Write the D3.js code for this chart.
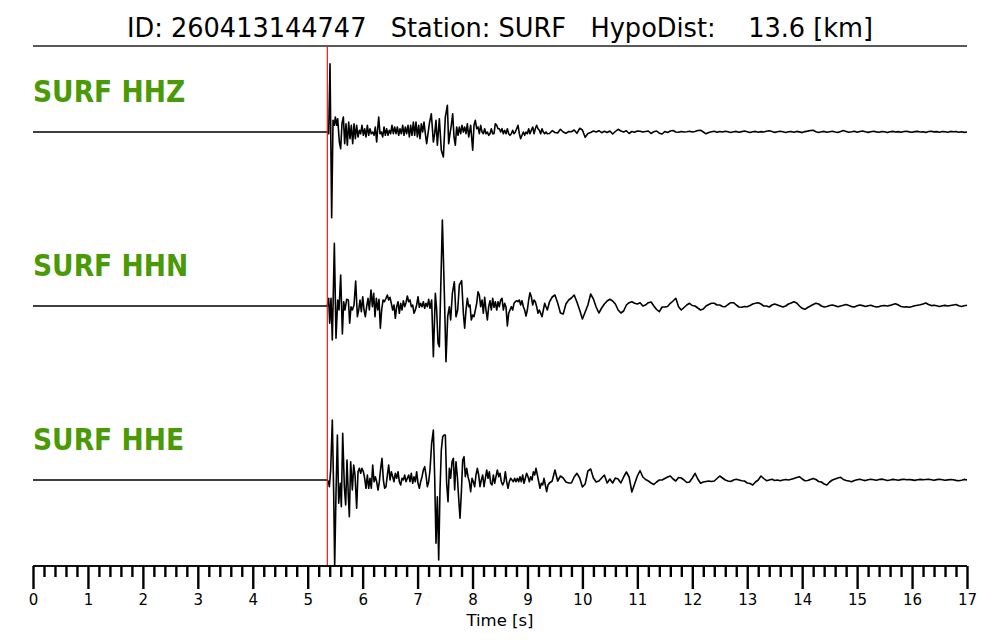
<!DOCTYPE html>
<html><head><meta charset="utf-8">
<script src="https://cdn.jsdelivr.net/npm/d3@7/dist/d3.min.js"></script>
<style>body{margin:0;background:#fff}svg{display:block}</style>
</head><body>
<svg id="chart" width="1000" height="640"></svg>
<script>
// ---------- data ----------
const channels = ["SURF HHZ", "SURF HHN", "SURF HHE"];
const titleText = "ID: 260413144747   Station: SURF   HypoDist:    13.6 [km]";
const axisLabel = "Time [s]";
const timeDomain = [0, 17];
const majorTicks = [0,1,2,3,4,5,6,7,8,9,10,11,12,13,14,15,16,17];
const minorStep = 0.2;
const pickTime = 5.357;           // P-pick (red line)
const tailStart = 9.40;           // coda samples start
const tailStep = 0.05;            // coda sample spacing [s]

// [time s, amplitude] around the onset (arbitrary units)
const hhzPicks = [[0,0],[5.357,0],[5.382,-1.7],[5.406,68.3],[5.436,-85.7],[5.461,11.7],[5.485,6.7],[5.503,15],[5.527,6.7],[5.546,13.3],[5.576,-10],[5.600,-16.7],[5.624,8.3],[5.649,15],[5.673,-11.7],[5.697,8.3],[5.721,-13.3],[5.746,10],[5.770,-6.7],[5.794,6.7],[5.819,-11.7],[5.843,8.3],[5.867,-6.7],[5.891,6.7],[5.916,-5],[5.940,1.7],[5.964,-1.7],[5.988,6.7],[6.013,-3.3],[6.037,3.3],[6.061,-5],[6.086,6.7],[6.110,-3.3],[6.134,3.3],[6.158,-1.7],[6.183,0],[6.207,-3.3],[6.231,5],[6.255,-10],[6.292,15],[6.316,-1.7],[6.340,0],[6.365,-5],[6.389,5],[6.413,-3.3],[6.437,3.3],[6.462,-3.3],[6.486,1.7],[6.510,-1.7],[6.534,6.7],[6.559,-1.7],[6.583,5],[6.607,-1.7],[6.632,5],[6.656,-3.3],[6.680,3.3],[6.704,-1.7],[6.729,6.7],[6.753,-3.3],[6.777,5],[6.801,-1.7],[6.826,6.7],[6.850,-5],[6.874,6.7],[6.898,-3.3],[6.923,10],[6.947,-3.3],[6.971,10],[6.996,-5],[7.020,6.7],[7.044,-6.7],[7.068,8.3],[7.093,0],[7.117,10],[7.141,-1.7],[7.165,-11.7],[7.190,-1.7],[7.214,8.3],[7.250,18.3],[7.287,-10],[7.311,-1.7],[7.335,11.7],[7.360,-13.3],[7.396,13.3],[7.432,-18.3],[7.469,-25],[7.505,15],[7.542,26.7],[7.566,-11.7],[7.590,-1.7],[7.614,6.7],[7.639,18.3],[7.663,-5],[7.687,-13.3],[7.711,5],[7.736,-3.3],[7.760,5],[7.784,-1.7],[7.809,6.7],[7.833,0],[7.857,5],[7.881,-1.7],[7.906,8.3],[7.930,-5],[7.966,6.7],[8.003,-18.3],[8.027,6.7],[8.051,11.7],[8.076,3.3],[8.100,5],[8.124,-1.7],[8.148,6.7],[8.173,0],[8.197,-1.7],[8.221,3.3],[8.245,-1.7],[8.270,0],[8.294,-3.3],[8.318,-1.7],[8.342,3.3],[8.367,-1.7],[8.391,-1.7],[8.415,8.3],[8.440,6.7],[8.464,3.3],[8.488,3.3],[8.512,0],[8.537,3.3],[8.561,-1.7],[8.585,1.7],[8.609,-1.7],[8.634,3.3],[8.658,-1.7],[8.682,-3.3],[8.706,-1.7],[8.731,1.7],[8.755,-1.7],[8.779,0],[8.803,3.3],[8.828,6.7],[8.852,-1.7],[8.876,-6.7],[8.900,-3.3],[8.925,0],[8.949,-3.3],[8.973,0],[8.998,-1.7],[9.022,3.3],[9.046,-1.7],[9.070,1.7],[9.095,5],[9.119,-1.7],[9.143,3.3],[9.167,6.7],[9.192,3.3],[9.216,1.7],[9.240,-1.7],[9.265,3.3],[9.289,0],[9.313,-1.7],[9.337,0],[9.362,-1.7]];
const hhzTail = [-1.5,1.3,-0.5,-1,2.7,0,-1.3,0.5,0.3,2,-1.3,3.7,2,-5.3,-1.5,-0.5,1,0,1.3,-0.7,0.8,-0.5,1,-2,0.5,2.7,1,0,1.2,-1.5,0.5,-0.3,1,0.8,0,0.5,1,-1.5,0.3,1,-1.2,-2,0.5,-0.5,1,1.5,0,-0.3,0.5,0,0.3,0.8,0,0.5,1.5,1.8,0,-1.8,-0.5,0.3,0.7,-0.3,0.5,0,0.8,0.3,-0.5,0.2,0.6,-0.3,0.4,1,0.2,-0.5,0.3,0.6,-0.2,0.4,0,0.7,1.2,0.5,-0.4,0.3,0.8,0.2,-0.5,0.3,0.5,-0.2,0.6,0.1,-0.6,0.4,0.9,1.5,1.8,0.3,-0.5,0.2,0.6,-0.3,0.3,0.7,0,-0.4,0.5,1.4,0.6,-0.3,0.2,0.8,-0.2,0.5,1,0.2,-0.4,0.3,0.7,0.1,-0.3,0.5,0.2,-0.6,0.3,0.6,0,0.4,-0.2,0.5,0.8,0.1,-0.3,0.4,0.6,0,0.3,-0.4,0.5,0.7,0.1,0.4,-0.2,0.5,0.3,-0.3,0.6,0.2,0.5,-0.2,0.3,-0.4,0];

const hhnPicks = [[0,0],[5.357,0],[5.382,7.7],[5.400,-17.3],[5.424,7.7],[5.448,-34],[5.485,62.7],[5.515,-32.3],[5.546,6],[5.570,-4],[5.600,31],[5.631,-28],[5.655,4.3],[5.679,-4],[5.709,6.7],[5.740,6],[5.764,-17.3],[5.788,-0.7],[5.813,-4],[5.843,1],[5.873,25],[5.904,-10.7],[5.928,-4],[5.952,6],[5.976,-5.7],[6.001,9.3],[6.025,-4],[6.049,-10.7],[6.073,-0.7],[6.098,7.7],[6.122,-4],[6.152,16],[6.177,-0.7],[6.201,12.7],[6.225,-10.7],[6.249,7.7],[6.274,-4],[6.298,6.7],[6.322,-22.3],[6.346,-4],[6.371,6],[6.395,4.3],[6.425,7.7],[6.450,11],[6.474,6],[6.498,8.7],[6.522,2.7],[6.547,-4],[6.571,1],[6.595,-12.3],[6.619,-0.7],[6.644,4.3],[6.668,-7.3],[6.692,2.7],[6.716,-4],[6.741,5.3],[6.765,-0.7],[6.789,3.3],[6.814,10],[6.838,4.3],[6.862,6],[6.886,-0.7],[6.911,1],[6.935,-7.3],[6.959,-4],[6.983,1],[7.008,9.3],[7.032,-1.3],[7.056,2.7],[7.081,-0.7],[7.105,4.3],[7.129,-2.3],[7.153,2.7],[7.178,-0.7],[7.202,6.7],[7.226,-2.3],[7.256,6],[7.287,-50.7],[7.323,12.7],[7.347,-4],[7.372,-37.3],[7.396,-40.7],[7.451,86],[7.487,12.7],[7.517,-55.7],[7.548,-10.7],[7.578,-0.7],[7.602,-14],[7.633,12.7],[7.669,24.3],[7.699,-10.7],[7.730,-4],[7.760,21],[7.802,25.3],[7.833,-7.3],[7.857,-22.3],[7.881,-4],[7.906,7.7],[7.930,-0.7],[7.954,1],[7.978,-14],[8.003,-9],[8.027,-10.7],[8.051,-4],[8.076,2.7],[8.100,14.3],[8.124,11],[8.148,-0.7],[8.173,6],[8.197,-7.3],[8.221,8.7],[8.245,-4],[8.270,-14],[8.294,-0.7],[8.318,5.3],[8.342,-4],[8.367,7.7],[8.391,-1.3],[8.415,4.3],[8.440,-4],[8.464,4.3],[8.488,-0.7],[8.512,6],[8.537,7.7],[8.561,-4],[8.585,2.7],[8.609,-0.7],[8.634,-20],[8.658,-7.3],[8.682,-4],[8.706,-0.7],[8.731,-4],[8.755,2.7],[8.779,4.3],[8.803,5.3],[8.828,4.3],[8.852,6],[8.876,1],[8.900,5.3],[8.925,-0.7],[8.949,-4],[8.973,-10],[8.998,-4],[9.022,6],[9.046,13.3],[9.070,9.3],[9.095,1],[9.119,6],[9.143,4.3],[9.167,-0.7],[9.192,-7.3],[9.216,-4],[9.240,-7.3],[9.265,-10.7],[9.289,-4],[9.313,2.7],[9.337,-0.7],[9.362,-4]];
const hhnTail = [4,9,11,3,-7,-8,2,6,8,11,4,-4,-13,-6,1,12,7,-1,-7,-2,2,5,6.7,5,2,-4,-7,-5,1,3.3,4.3,2.7,2,3.3,0,1,3.3,4,0,-3.5,-5.7,-1,-1,-0.5,2.7,5,7.7,-0.7,-4,-1.5,1,2.7,0.5,0,-2,-4,-3,0,1.5,2.7,2.7,1,1,-0.5,-0.7,1.5,3.3,3.3,1,-1,-1.3,-0.5,-0.7,0.5,2,2.7,3.3,2,0,0,-1,1,2,1,0,-1,0,2,3,4.3,3,0,-2.3,-3.3,-1.5,0,1.5,2.7,2,0,-1,-0.5,0.5,1,0.3,-0.8,0,0.8,1.5,0.5,-0.6,-1,0.2,1,0.4,-0.5,0.3,0.8,-0.3,-1,-0.6,0.2,0.5,0,0.6,1.5,2.3,1,-0.5,-1,-0.8,-1.2,-0.5,0.3,0.8,1.2,2,3,1.5,0.4,0.8,0.3,-0.6,0.2,0.6,0,0.5,1,1.5,0.3,-0.5,0.2,0.8];

const hhePicks = [[0,0],[5.357,0],[5.376,-1.7],[5.394,-6.7],[5.418,10],[5.448,60],[5.473,-13.3],[5.491,-86],[5.515,-13.3],[5.540,45],[5.564,-23.3],[5.594,-3.3],[5.612,-26.7],[5.637,46.7],[5.667,-6.7],[5.691,-25],[5.715,20],[5.740,-16.7],[5.758,-36.7],[5.782,18.3],[5.813,-10],[5.837,15],[5.861,5],[5.891,-28.3],[5.916,8.3],[5.940,11.7],[5.964,6.7],[5.988,11.7],[6.013,8.3],[6.037,1.7],[6.061,-8.3],[6.086,5],[6.110,-8.3],[6.134,1.7],[6.158,-8.3],[6.183,15],[6.207,-1.7],[6.231,3.3],[6.255,-1.7],[6.280,-10],[6.304,-1.7],[6.328,11.7],[6.352,21.7],[6.377,0],[6.401,-8.3],[6.425,-6.7],[6.450,5],[6.474,15],[6.498,0],[6.522,8.3],[6.547,3.3],[6.571,-1.7],[6.595,6.7],[6.619,1.7],[6.644,8.3],[6.668,-1.7],[6.692,-5],[6.716,1.7],[6.741,0],[6.765,5],[6.789,-1.7],[6.814,1.7],[6.838,5],[6.862,-1.7],[6.886,6.7],[6.911,-3.3],[6.935,3.3],[6.959,-1.7],[6.983,8.3],[7.008,-3.3],[7.032,-8.3],[7.056,-1.7],[7.081,3.3],[7.105,10],[7.129,13.3],[7.153,5],[7.178,-6.7],[7.202,-1.7],[7.226,10],[7.256,36.7],[7.287,50],[7.311,3.3],[7.335,-63.3],[7.360,-16.7],[7.384,-80],[7.408,-10],[7.432,30],[7.457,43.3],[7.481,45],[7.505,45],[7.529,-3.3],[7.554,-21.7],[7.578,11.7],[7.602,1.7],[7.627,18.3],[7.651,21.7],[7.675,-10],[7.699,18.3],[7.724,3.3],[7.748,-18.3],[7.772,-38.3],[7.796,-13.3],[7.821,20],[7.845,23.3],[7.869,3.3],[7.894,11.7],[7.918,3.3],[7.942,-1.7],[7.966,-11.7],[7.991,1.7],[8.015,-1.7],[8.039,-6.7],[8.063,5],[8.088,11.7],[8.112,5],[8.136,-6.7],[8.160,0],[8.185,5],[8.209,-6.7],[8.233,1.7],[8.258,10],[8.282,1.7],[8.306,8.3],[8.330,-3.3],[8.355,-5],[8.379,5],[8.403,-3.3],[8.427,3.3],[8.452,10],[8.476,3.3],[8.500,6.7],[8.524,-1.7],[8.549,-5],[8.573,-1.7],[8.597,8.3],[8.621,-1.7],[8.646,-8.3],[8.670,-1.7],[8.694,1.7],[8.719,0],[8.743,-1.7],[8.767,1.7],[8.791,-1.7],[8.816,1.7],[8.840,-1.7],[8.864,3.3],[8.888,-1.7],[8.913,5],[8.937,-3.3],[8.961,1.7],[8.985,6.7],[9.010,3.3],[9.034,-1.7],[9.058,3.3],[9.083,0],[9.107,8.3],[9.131,5],[9.155,11.7],[9.180,5],[9.204,-1.7],[9.228,-8.3],[9.252,-3.3],[9.277,-5],[9.301,1.7],[9.325,-5],[9.349,-11.7],[9.374,-5]];
const hheTail = [-3,-1,10,-1,4,2,-2,-3,-3,3,6.7,2,-7,-4,9,11,2,-2,-1,2,5,-3,1,-3,2,1,-3,3,8,3,-12,-4,4,9.3,3,0.5,-1,-3,-4.5,-2,0,0,1.5,3,4,1,-1,2.5,2,0,-2.5,-2,2,6.7,1,-3.3,-2,-1.5,-1,-1.5,-1,1.5,4,2,0,-1,-1.5,0,0.7,0,-0.7,-1,-3,-3.5,-5,-2,0,4,1.5,-0.7,0,0.7,-0.5,0,-0.7,0,0.5,0,0.7,1.5,2.5,3.3,1,-0.7,-0.5,0.5,1.5,0.5,-1.5,-2,-4,-5,-2,0,1,2,2.7,0.5,-0.5,-1,-1.7,-0.5,0.3,0.8,0,-0.6,0.2,0.7,0.3,-0.3,0.5,0.9,0.2,-0.5,0,0.6,0.3,-0.2,0.4,0.8,0.2,0.5,0.1,-0.4,0.3,0.6,0.2,0.5,0.8,0.3,-0.2,0.4,0.7,0.2,-0.3,0.1,0.5,0.2,-0.4,-0.8,-0.2,0.6,0];

const picksList = [hhzPicks, hhnPicks, hhePicks];
const tailList = [hhzTail, hhnTail, hheTail];

// ---------- layout ----------
const left = 33, right = 967;
const topRule = 46, axisY = 566;
const baselines = [132, 306, 480];
const ampHalf = 100;   // px for +-100 amplitude units

const svg = d3.select("#chart");
const x = d3.scaleLinear().domain(timeDomain).range([left, right]);

// title
svg.append("text")
  .attr("x", 500).attr("y", 37)
  .attr("text-anchor", "middle")
  .attr("textLength", 746).attr("lengthAdjust", "spacingAndGlyphs")
  .style("white-space", "pre")
  .style("font-family", "'DejaVu Sans Condensed','DejaVu Sans',sans-serif")
  .style("font-size", "26px").attr("fill", "#000")
  .text(titleText);

svg.append("line")
  .attr("x1", x(timeDomain[0])).attr("x2", x(timeDomain[1]))
  .attr("y1", topRule).attr("y2", topRule)
  .attr("stroke", "#222").attr("stroke-width", 1.6);

// traces
const lineGen = d3.line().curve(d3.curveLinear);
channels.forEach((name, k) => {
  const base = baselines[k];
  const y = d3.scaleLinear().domain([-ampHalf, ampHalf]).range([base + ampHalf, base - ampHalf]);
  const pts = picksList[k].map(d => [d[0], d[1]]);
  tailList[k].forEach((v, i) => pts.push([tailStart + i * tailStep, v]));
  svg.append("path")
    .attr("d", lineGen.x(d => x(d[0])).y(d => y(d[1]))(pts))
    .attr("fill", "none").attr("stroke", "#000")
    .attr("stroke-width", 1.6).attr("stroke-linejoin", "round");
  svg.append("text")
    .attr("x", left).attr("y", base - 30)
    .style("font-family", "'DejaVu Sans Condensed','DejaVu Sans',sans-serif")
    .style("font-weight", "bold").style("font-size", "29.5px")
    .attr("fill", "#4a9a06")
    .text(name);
});

// pick line
svg.append("line")
  .attr("x1", x(pickTime)).attr("x2", x(pickTime))
  .attr("y1", topRule).attr("y2", axisY)
  .attr("stroke", "#e41a1a").attr("stroke-width", 1.2);

// axis
const minorTicks = d3.range(timeDomain[0], timeDomain[1] + 1e-9, minorStep)
  .filter(t => Math.abs(t - Math.round(t)) > 1e-6);
const gMinor = svg.append("g").attr("transform", `translate(0,${axisY})`)
  .call(d3.axisBottom(x).tickValues(minorTicks).tickSize(11).tickFormat(""));
const gMajor = svg.append("g").attr("transform", `translate(0,${axisY})`)
  .call(d3.axisBottom(x).tickValues(majorTicks).tickSize(23).tickPadding(5).tickFormat(d3.format("d")));
[gMinor, gMajor].forEach(g => {
  g.select(".domain").attr("stroke", "#000").attr("stroke-width", 1.6).attr("d", `M${left},0H${right}`);
  g.selectAll(".tick line").attr("stroke", "#000").attr("stroke-width", 2.4);
});
gMajor.selectAll(".tick text")
  .style("font-family", "'DejaVu Sans',sans-serif").style("font-size", "15px").attr("fill", "#000");

svg.append("text")
  .attr("x", 500).attr("y", 625.5).attr("text-anchor", "middle")
  .style("font-family", "'DejaVu Sans',sans-serif").style("font-size", "16.5px")
  .text(axisLabel);
</script>
</body></html>
